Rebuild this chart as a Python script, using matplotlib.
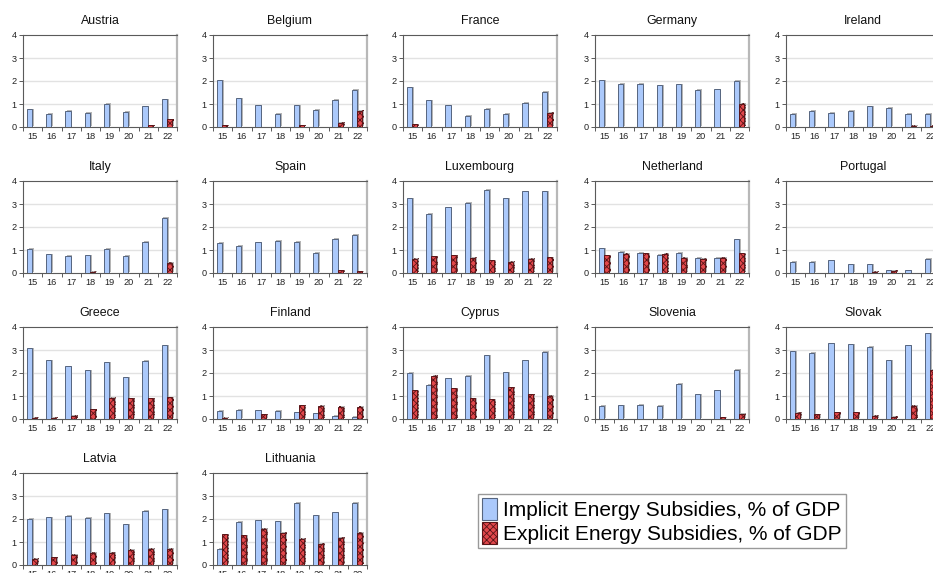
import matplotlib
matplotlib.use("Agg")
import matplotlib.pyplot as plt
import matplotlib.patheffects as pe
from matplotlib.patches import Patch
import numpy as np

plt.rcParams['font.family'] = ['Liberation Sans', 'DejaVu Sans']
plt.rcParams['hatch.linewidth'] = 0.6

years = ["15", "16", "17", "18", "19", "20", "21", "22"]
countries = ["Austria", "Belgium", "France", "Germany", "Ireland",
             "Italy", "Spain", "Luxembourg", "Netherland", "Portugal",
             "Greece", "Finland", "Cyprus", "Slovenia", "Slovak",
             "Latvia", "Lithuania"]

implicit = [
    [0.78, 0.57, 0.70, 0.61, 1.00, 0.67, 0.91, 1.21],  # Austria
    [2.04, 1.25, 0.94, 0.57, 0.95, 0.74, 1.18, 1.61],  # Belgium
    [1.72, 1.17, 0.95, 0.48, 0.80, 0.57, 1.05, 1.54],  # France
    [2.04, 1.89, 1.89, 1.81, 1.85, 1.61, 1.64, 2.02],  # Germany
    [0.57, 0.70, 0.61, 0.70, 0.91, 0.83, 0.57, 0.57],  # Ireland
    [1.05, 0.82, 0.74, 0.77, 1.05, 0.74, 1.35, 2.40],  # Italy
    [1.31, 1.18, 1.34, 1.40, 1.35, 0.88, 1.50, 1.65],  # Spain
    [3.25, 2.58, 2.85, 3.05, 3.62, 3.25, 3.55, 3.55],  # Luxembourg
    [1.08, 0.92, 0.87, 0.80, 0.87, 0.65, 0.67, 1.47],  # Netherland
    [0.50, 0.48, 0.55, 0.38, 0.37, 0.11, 0.11, 0.62],  # Portugal
    [3.08, 2.55, 2.30, 2.12, 2.47, 1.82, 2.52, 3.20],  # Greece
    [0.35, 0.40, 0.37, 0.35, 0.30, 0.25, 0.15, 0.10],  # Finland
    [2.00, 1.50, 1.78, 1.88, 2.78, 2.03, 2.55, 2.92],  # Cyprus
    [0.57, 0.60, 0.63, 0.57, 1.52, 1.08, 1.25, 2.15],  # Slovenia
    [2.95, 2.87, 3.30, 3.25, 3.15, 2.55, 3.20, 3.73],  # Slovak
    [2.00, 2.07, 2.13, 2.05, 2.25, 1.78, 2.35, 2.43],  # Latvia
    [0.70, 1.87, 1.95, 1.90, 2.70, 2.17, 2.30, 2.70],  # Lithuania
]

explicit = [
    [0.00, 0.00, 0.00, 0.00, 0.00, 0.00, 0.07, 0.33],  # Austria
    [0.07, 0.00, 0.00, 0.00, 0.07, 0.00, 0.19, 0.70],  # Belgium
    [0.11, 0.00, 0.00, 0.00, 0.00, 0.00, 0.00, 0.63],  # France
    [0.00, 0.00, 0.00, 0.00, 0.00, 0.00, 0.00, 1.01],  # Germany
    [0.00, 0.00, 0.00, 0.00, 0.00, 0.00, 0.06, 0.06],  # Ireland
    [0.00, 0.00, 0.00, 0.06, 0.00, 0.00, 0.00, 0.45],  # Italy
    [0.00, 0.00, 0.00, 0.00, 0.00, 0.00, 0.12, 0.07],  # Spain
    [0.62, 0.72, 0.78, 0.67, 0.55, 0.50, 0.62, 0.68],  # Luxembourg
    [0.78, 0.83, 0.85, 0.83, 0.65, 0.62, 0.65, 0.85],  # Netherland
    [0.00, 0.00, 0.00, 0.00, 0.05, 0.10, 0.00, 0.00],  # Portugal
    [0.05, 0.05, 0.15, 0.43, 0.92, 0.90, 0.90, 0.95],  # Greece
    [0.05, 0.00, 0.20, 0.00, 0.60, 0.57, 0.53, 0.52],  # Finland
    [1.25, 1.88, 1.33, 0.90, 0.85, 1.38, 1.07, 1.00],  # Cyprus
    [0.00, 0.00, 0.00, 0.00, 0.00, 0.00, 0.08, 0.22],  # Slovenia
    [0.27, 0.20, 0.30, 0.30, 0.15, 0.10, 0.57, 2.15],  # Slovak
    [0.27, 0.33, 0.45, 0.53, 0.53, 0.65, 0.70, 0.70],  # Latvia
    [1.33, 1.30, 1.58, 1.40, 1.15, 0.93, 1.18, 1.40],  # Lithuania
]

legend_labels = ["Implicit Energy Subsidies, % of GDP",
                 "Explicit Energy Subsidies, % of GDP"]

W, H = 933, 573
fig = plt.figure(figsize=(W / 100, H / 100), dpi=100)

col_left = [23, 213, 403, 595, 786]
row_top = [35, 181, 327, 473]
ax_w, ax_h = 154, 92

blue_face = '#abc9fb'
blue_edge = '#56657f'
red_face = '#e2474b'
red_edge = '#5a1518'
dark = '#5a5a5a'

shadow = [pe.SimplePatchShadow(offset=(1.3, 0.4), shadow_rgbFace='#b5b5b5', alpha=1.0), pe.Normal()]

x = np.arange(len(years))
for i, name in enumerate(countries):
    r, c = divmod(i, 5)
    left = col_left[c] / W
    bottom = 1 - (row_top[r] + ax_h) / H
    ax = fig.add_axes([left, bottom, ax_w / W, ax_h / H])
    b1 = ax.bar(x - 0.165, implicit[i], width=0.27, color=blue_face,
                edgecolor=blue_edge, linewidth=0.7, zorder=3)
    b2 = ax.bar(x + 0.105, explicit[i], width=0.27, color=red_face,
                edgecolor=red_edge, linewidth=0.7, hatch='xxxxx', zorder=3)
    for p in list(b1) + list(b2):
        if p.get_height() > 0:
            p.set_path_effects(shadow)
    ax.set_xlim(-0.5, len(years) - 0.5)
    ax.set_ylim(0, 4)
    ax.set_yticks([0, 1, 2, 3, 4])
    ax.set_xticks(x)
    ax.set_xticklabels(years)
    ax.set_xticks(np.arange(-0.5, len(years)), minor=True)
    ax.tick_params(axis='x', which='major', length=0, labelsize=6.6, pad=3.5, colors='#222222')
    ax.tick_params(axis='x', which='minor', length=3, width=0.7, color=dark, direction='out')
    ax.tick_params(axis='y', length=3, width=0.7, color=dark, labelsize=6.6, pad=1.5, labelcolor='#222222')
    for yv in [1, 2, 3]:
        ax.axhline(yv, color='#e2e2e2', linewidth=1.0, zorder=1)
    for s in ['left', 'bottom', 'top']:
        ax.spines[s].set_color(dark)
        ax.spines[s].set_linewidth(0.8)
    ax.spines['right'].set_color('#b8b8b8')
    ax.spines['right'].set_linewidth(1.6)
    ax.set_title(name, fontsize=8.9, pad=8, color='#111111')

handles = [Patch(facecolor=blue_face, edgecolor=blue_edge, linewidth=0.8),
           Patch(facecolor=red_face, edgecolor=red_edge, linewidth=0.8, hatch='xxxxx')]
leg = fig.legend(handles, legend_labels, loc='upper left',
                 bbox_to_anchor=(478 / W, 1 - 494 / H), fontsize=15,
                 frameon=True, fancybox=False, handlelength=0.7, handleheight=1.25,
                 handletextpad=0.3, borderpad=0.2, labelspacing=0.08,
                 borderaxespad=0)
leg.get_frame().set_edgecolor('#808080')
leg.get_frame().set_linewidth(1.0)

fig.savefig('out.png', dpi=100)
